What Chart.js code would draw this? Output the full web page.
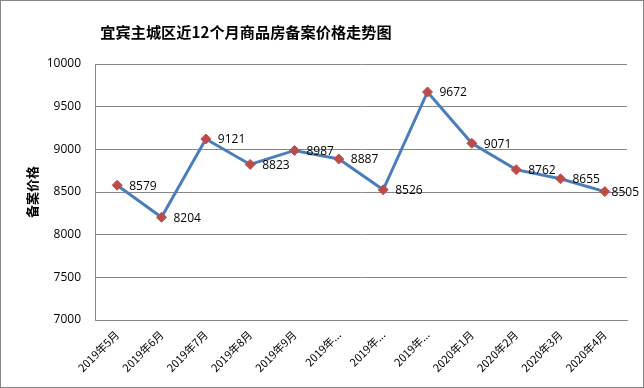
<!DOCTYPE html>
<html>
<head>
<meta charset="utf-8">
<script src="https://cdn.jsdelivr.net/npm/chart.js@4/dist/chart.umd.min.js"></script>
<style>
  body { margin: 0; background: #fff; }
  #box { width: 642px; height: 386px; border: 1px solid #868686; position: relative; }
</style>
</head>
<body>
<div id="box"><canvas id="Cnvs1"></canvas></div>
<script>
var chartTitle = '宜宾主城区近12个月商品房备案价格走势图';
var yTitle = '备案价格';
var months = ['2019年5月', '2019年6月', '2019年7月', '2019年8月', '2019年9月', '2019年10月',
  '2019年11月', '2019年12月', '2020年1月', '2020年2月', '2020年3月', '2020年4月'];
var prices = [8579, 8204, 9121, 8823, 8987, 8887, 8526, 9672, 9071, 8762, 8655, 8505];
var yMin = 7000, yMax = 10000, yStep = 500;

var cjk = '"Noto Sans CJK SC", "Open Sans", sans-serif';

// title + point labels, drawn by hand
var extras = {
  id: 'extras',
  afterDatasetsDraw: function(chart) {
    var ctx = chart.ctx;
    ctx.save();
    ctx.fillStyle = '#000';
    ctx.font = 'bold 15.2px ' + cjk;
    ctx.textAlign = 'center';
    ctx.textBaseline = 'middle';
    ctx.fillText(chartTitle, 245, 31);

    ctx.font = '12px "Open Sans", sans-serif';
    ctx.textAlign = 'left';
    var meta = chart.getDatasetMeta(0);
    meta.data.forEach(function(pt, i) {
      var txt = String(prices[i]);
      var w = ctx.measureText(txt).width;
      var x = Math.min(pt.x + 12, chart.width - w - 4);
      ctx.fillText(txt, x, pt.y + 1);
    });
    ctx.restore();
  }
};

var Cnvs = document.getElementById('Cnvs1').getContext('2d');
var lineChart = new Chart(Cnvs, {
  type: 'line',
  data: {
    labels: months,
    datasets: [{
      data: prices,
      borderColor: '#4A7EBB',
      borderWidth: 3,
      tension: 0,
      pointStyle: 'rectRot',
      pointRadius: 5,
      pointHoverRadius: 5,
      pointBackgroundColor: '#BE4B48',
      pointBorderColor: '#BE4B48',
      pointBorderWidth: 1
    }]
  },
  options: {
    responsive: true,
    maintainAspectRatio: false,
    animation: false,
    layout: { padding: { left: 19, top: 63, right: 16, bottom: 0 } },
    plugins: { legend: { display: false }, tooltip: { enabled: false }, title: { display: false } },
    scales: {
      x: {
        offset: true,
        grid: { display: false, drawTicks: false },
        border: { display: true, color: '#868686', width: 1 },
        ticks: {
          color: '#000',
          font: { family: cjk, size: 11 },
          maxRotation: 45,
          minRotation: 45,
          autoSkip: false,
          padding: 8,
          callback: function(v, i) {
            var s = months[i];
            return s.length > 7 ? s.slice(0, 5) + '...' : s;
          }
        },
        afterFit: function(scale) { scale.height = 67; }
      },
      y: {
        min: yMin,
        max: yMax,
        grid: { color: '#868686', drawTicks: false },
        border: { display: true, color: '#868686', width: 1 },
        ticks: {
          stepSize: yStep,
          color: '#000',
          padding: 14,
          font: { family: '"Open Sans", sans-serif', size: 12 },
          callback: function(v) { return String(v); }
        },
        title: {
          display: true,
          text: yTitle,
          color: '#000',
          padding: { top: 4, bottom: 0 },
          font: { family: cjk, size: 13, weight: 'bold' }
        },
        afterFit: function(scale) { scale.width = 75; }
      }
    }
  },
  plugins: [extras]
});
</script>
</body>
</html>
